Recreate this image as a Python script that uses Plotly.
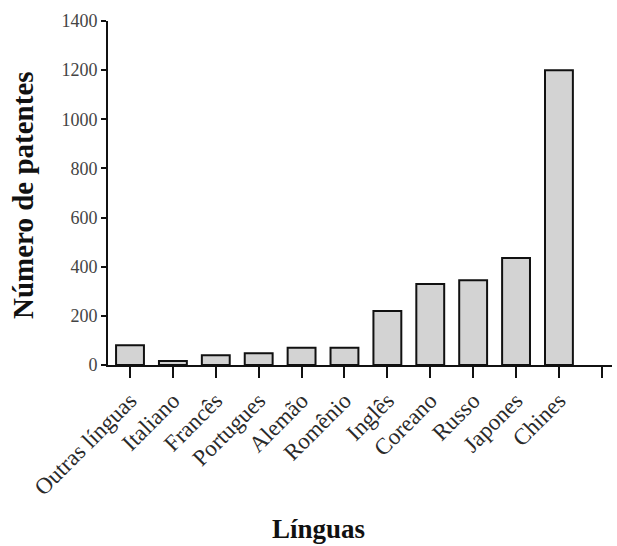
import plotly.graph_objects as go

# Patent counts by language
languages = ["Outras línguas", "Italiano", "Francês", "Portugues", "Alemão", "Romênio",
             "Inglês", "Coreano", "Russo", "Japones", "Chines"]
patents = [80, 16, 40, 48, 70, 70, 220, 330, 345, 435, 1200]

y_ticks = [0, 200, 400, 600, 800, 1000, 1200, 1400]

positions = list(range(len(languages)))
tick_positions = list(range(len(languages) + 1))
tick_text = languages + [""]

serif = "Liberation Serif, Times New Roman, serif"

fig = go.Figure(
    go.Bar(
        x=positions,
        y=patents,
        width=0.65,
        marker=dict(color="#d3d3d3", line=dict(color="#111111", width=2)),
    )
)

# Plot area spans x 108..612 and y 21..365 in pixels
plot_left, plot_width = 108, 504
plot_bottom, plot_height = 365, 344

fig.update_layout(
    width=617,
    height=546,
    margin=dict(l=108, r=5, t=21, b=181),
    paper_bgcolor="white",
    plot_bgcolor="white",
    showlegend=False,
    font=dict(family=serif, color="#333333"),
    xaxis=dict(
        range=[-0.513, 11.237],
        tickmode="array",
        tickvals=tick_positions,
        ticktext=tick_text,
        tickangle=-45,
        ticks="outside",
        ticklen=11,
        tickwidth=2,
        tickcolor="#111111",
        showline=True,
        linecolor="#111111",
        linewidth=2,
        showgrid=False,
        zeroline=False,
        tickfont=dict(family=serif, size=23, color="#2a2a2a"),
    ),
    yaxis=dict(
        range=[0, 1400],
        tickmode="array",
        tickvals=y_ticks,
        ticks="outside",
        ticklen=5,
        tickwidth=2,
        tickcolor="#111111",
        showline=True,
        linecolor="#111111",
        linewidth=2,
        showgrid=False,
        zeroline=False,
        tickfont=dict(family=serif, size=18, color="#444444"),
    ),
    annotations=[
        dict(
            text="<b>Línguas</b>",
            xref="paper", yref="paper",
            x=(318 - plot_left) / plot_width,
            y=-(529 - plot_bottom) / plot_height,
            xanchor="center", yanchor="middle",
            showarrow=False,
            font=dict(family=serif, size=27, color="#111111"),
        ),
        dict(
            text="<b>Número de patentes</b>",
            xref="paper", yref="paper",
            x=-(plot_left - 23) / plot_width,
            y=(plot_bottom - 195) / plot_height,
            xanchor="center", yanchor="middle",
            textangle=-90,
            showarrow=False,
            font=dict(family=serif, size=29, color="#111111"),
        ),
    ],
)

fig.write_html("out.html")
